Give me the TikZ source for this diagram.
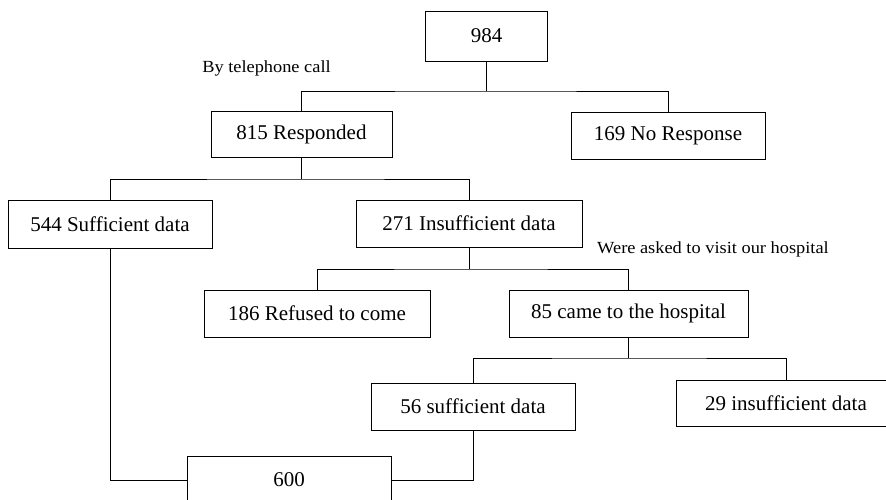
\documentclass[tikz,border=0pt]{standalone}
\usepackage{fontspec}
\setmainfont{Liberation Serif}
\newfontfamily\notefont[FakeStretch=1.08]{Liberation Serif}
\begin{document}
\begin{tikzpicture}[x=1pt,y=-1pt,
  box/.style={draw, line width=0.9pt, inner sep=0pt, font=\fontsize{21}{24}\selectfont},
  note/.style={inner sep=0pt, font=\notefont\fontsize{17}{20}\selectfont},
  conn/.style={line width=0.9pt}]
\useasboundingbox (0,0) rectangle (886,500);
\clip (0,0) rectangle (886,500);
% boxes
\node[box, minimum width=122pt, minimum height=50pt] (n984) at (486.5,36) {984};
\node[box, minimum width=181pt, minimum height=46pt] (n815) at (301.5,134) {815 Responded};
\node[box, minimum width=194pt, minimum height=47pt] (n169) at (668,135.5) {169 No Response};
\node[box, minimum width=204pt, minimum height=48pt] (n544) at (110,224) {544 Sufficient data};
\node[box, minimum width=226pt, minimum height=47pt] (n271) at (469,223.5) {271 Insufficient data};
\node[box, minimum width=226pt, minimum height=47pt] (n186) at (317,313.5) {186 Refused to come};
\node[box, minimum width=239pt, minimum height=47pt] (n85) at (628.5,313.5) {85 came to the hospital};
\node[box, minimum width=204pt, minimum height=47pt] (n56) at (473,406.5) {56 sufficient data};
\node[box, minimum width=220pt, minimum height=46pt] (n29) at (786,403) {29 insufficient data};
\node[box, minimum width=204pt, minimum height=48pt] (n600) at (289,480) {600};
% notes
\node[note] (tel) at (266.5,68) {By telephone call};
\node[note] (visit) at (713,249) {Were asked to visit our hospital};
% bus coordinates
\coordinate (b1) at (486.5,91);
\coordinate (b2) at (301.5,179);
\coordinate (b3) at (469,269);
\coordinate (b4) at (628.5,358);
% connectors
\draw[conn] (n984.south) -- (b1);
\draw[conn] (n815.north) |- (b1) -| (n169.north);
\draw[conn] (n815.south) -- (b2);
\draw[conn] (n544.north) |- (b2) -| (n271.north);
\draw[conn] (n271.south) -- (b3);
\draw[conn] (n186.north) |- (b3) -| (n85.north);
\draw[conn] (n85.south) -- (b4);
\draw[conn] (n56.north) |- (b4) -| (n29.north);
\draw[conn] (n544.south) |- (n600.west);
\draw[conn] (n56.south) |- (n600.east);
\end{tikzpicture}
\end{document}
